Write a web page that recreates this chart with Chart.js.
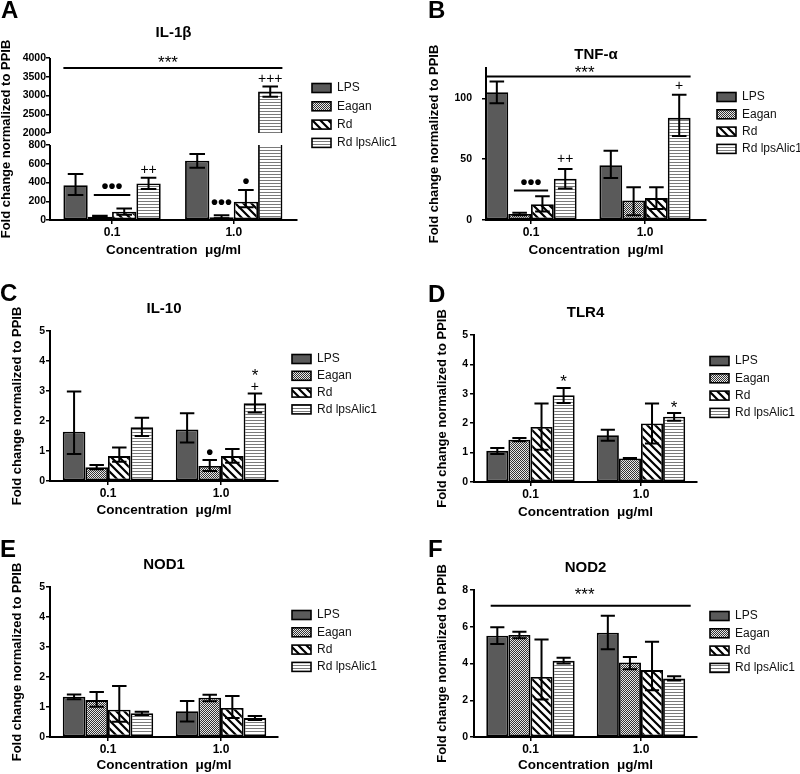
<!DOCTYPE html>
<html>
<head>
<meta charset="utf-8">
<title>Cytokine and receptor expression</title>
<script src="https://cdn.jsdelivr.net/npm/chart.js@4.4.1/dist/chart.umd.min.js"></script>
<style>
  body { margin: 0; background: #fff; }
  #wrap { position: relative; width: 800px; height: 774px; overflow: hidden; background: #fff; }
  canvas { position: absolute; }
</style>
</head>
<body>
<div id="wrap">
  <canvas id="pA" width="410" height="262" style="left:0;top:0"></canvas>
  <canvas id="pB" width="400" height="262" style="left:400px;top:0"></canvas>
  <canvas id="pC" width="400" height="262" style="left:0;top:258px"></canvas>
  <canvas id="pD" width="400" height="262" style="left:400px;top:258px"></canvas>
  <canvas id="pE" width="400" height="259" style="left:0;top:515px"></canvas>
  <canvas id="pF" width="400" height="259" style="left:400px;top:515px"></canvas>
</div>
<script>
const groups = ['0.1', '1.0'];
const series = ['LPS', 'Eagan', 'Rd', 'Rd lpsAlic1'];

// rows = series (LPS, Eagan, Rd, Rd lpsAlic1), columns = 0.1 / 1.0 µg/ml
// mean, top of error bar, bottom of error bar
const il1bMean = [[372, 633], [35, 30], [88, 195], [390, 3110]];
const il1bHi   = [[490, 704], [45, 50], [122, 320], [452, 3238]];
const il1bLo   = [[268, 558], [25, 18], [56, 135], [330, 2970]];
const il1bTicks = [0, 200, 400, 600, 800, 2000, 2500, 3000, 3500, 4000];

const tnfMean = [[105, 45], [5, 16], [13, 18], [34, 84]];
const tnfHi   = [[114, 57], [6, 27], [19.5, 27], [42, 103]];
const tnfLo   = [[96, 34.5], [4, 4], [7, 9], [26, 69]];
const tnfTicks = [0, 50, 100];

const il10Mean = [[1.64, 1.72], [0.46, 0.5], [0.83, 0.83], [1.79, 2.59]];
const il10Hi   = [[2.98, 2.26], [0.53, 0.7], [1.12, 1.07], [2.11, 2.92]];
const il10Lo   = [[0.9, 1.28], [0.39, 0.33], [0.64, 0.61], [1.5, 2.28]];

const tlr4Mean = [[1.06, 1.59], [1.44, 0.8], [1.87, 1.99], [2.95, 2.22]];
const tlr4Hi   = [[1.16, 1.78], [1.5, 0.82], [2.67, 2.67], [3.2, 2.35]];
const tlr4Lo   = [[0.95, 1.4], [1.39, 0.78], [1.1, 1.31], [2.69, 2.08]];

const nod1Mean = [[1.34, 0.86], [1.23, 1.31], [0.91, 0.97], [0.79, 0.63]];
const nod1Hi   = [[1.42, 1.2], [1.5, 1.41], [1.7, 1.37], [0.84, 0.7]];
const nod1Lo   = [[1.26, 0.52], [1.01, 1.19], [0.51, 0.63], [0.73, 0.57]];

const nod2Mean = [[5.51, 5.67], [5.55, 4.06], [3.27, 3.64], [4.15, 3.19]];
const nod2Hi   = [[5.97, 6.6], [5.73, 4.36], [5.31, 5.18], [4.31, 3.3]];
const nod2Lo   = [[5.06, 4.78], [5.37, 3.69], [2.04, 2.55], [4.0, 3.08]];

const fiveTicks = [0, 1, 2, 3, 4, 5];
const nod2Ticks = [0, 2, 4, 6, 8];

// significance marks: [text, group position, value]
const il1bMarks = [['***', 0.46, 3950], ['\u2022\u2022\u2022', 0, 352], ['++', 0.3, 533],
                   ['\u2022\u2022\u2022', 0.9, 175], ['\u2022', 1.1, 405], ['+++', 1.3, 3440]];
const il1bLines = [[-0.4, 1.4, 3733], [-0.15, 0.15, 267]];
const tnfMarks = [['***', 0.47, 123.4], ['\u2022\u2022\u2022', 0, 30.4], ['++', 0.3, 49.7], ['+', 1.3, 110]];
const tnfLines = [[-0.395, 1.4, 118], [-0.15, 0.15, 24.3]];
const il10Marks = [['*', 1.3, 3.6], ['+', 1.3, 3.14], ['\u2022', 0.9, 0.92]];
const tlr4Marks = [['*', 0.3, 3.49], ['*', 1.3, 2.6]];
const nod2Marks = [['***', 0.49, 7.9]];
const nod2Lines = [[-0.36, 1.45, 7.14]];

const FONT = "'Liberation Sans', Arial, Helvetica, sans-serif";
const breakLow = 800, breakHigh = 2000, breakGap = 12;

// y scale with a gap between 800 and 2000 (panel A)
class BrokenLinearScale extends Chart.LinearScale {
  getPixelForValue(value) {
    const seg = (this.bottom - this.top - breakGap) / 2;
    if (value <= breakLow) return this.bottom - (value - this.min) / (breakLow - this.min) * seg;
    if (value >= breakHigh) return this.top + (this.max - value) / (this.max - breakHigh) * seg;
    return this.bottom - seg - (value - breakLow) / (breakHigh - breakLow) * breakGap;
  }
  getValueForPixel(pixel) {
    const seg = (this.bottom - this.top - breakGap) / 2;
    const up = this.bottom - pixel;
    if (up <= seg) return this.min + up / seg * (breakLow - this.min);
    if (up >= seg + breakGap) return this.max - (pixel - this.top) / seg * (this.max - breakHigh);
    return breakLow + (up - seg) / breakGap * (breakHigh - breakLow);
  }
}
BrokenLinearScale.id = 'brokenLinear';
Chart.register(BrokenLinearScale);

function makePattern(kind) {
  const c = document.createElement('canvas');
  const g = c.getContext('2d');
  if (kind === 'check') {
    c.width = 2; c.height = 2;
    g.fillStyle = '#e8e8e8'; g.fillRect(0, 0, 2, 2);
    g.fillStyle = '#333'; g.fillRect(0, 0, 1, 1); g.fillRect(1, 1, 1, 1);
  } else if (kind === 'diag') {
    c.width = 8; c.height = 8;
    g.fillStyle = '#fff'; g.fillRect(0, 0, 8, 8);
    g.strokeStyle = '#000'; g.lineWidth = 2.2;
    g.beginPath();
    g.moveTo(-2, -2); g.lineTo(10, 10);
    g.moveTo(-2, 6); g.lineTo(2, 10);
    g.moveTo(6, -2); g.lineTo(10, 2);
    g.stroke();
  } else {
    c.width = 4; c.height = 3;
    g.fillStyle = '#fff'; g.fillRect(0, 0, 4, 3);
    g.fillStyle = '#7a7a7a'; g.fillRect(0, 0, 4, 1);
  }
  return g.createPattern(c, 'repeat');
}
const fills = ['#5a5a5a', makePattern('check'), makePattern('diag'), makePattern('horiz')];

function decorations(letter, g, marks, lines) {
  return {
    id: 'decorations',
    beforeDatasetsDraw(chart) {
      const y = chart.scales.y;
      if (!(y instanceof BrokenLinearScale)) return;
      const ctx = chart.ctx, ca = chart.chartArea;
      const pLo = y.getPixelForValue(breakLow), pHi = y.getPixelForValue(breakHigh);
      ctx.save();
      ctx.beginPath();
      ctx.rect(ca.left - 10, 0, ca.width + 20, pHi);
      ctx.rect(ca.left - 10, pLo, ca.width + 20, chart.height - pLo);
      ctx.clip();
    },
    afterDatasetsDraw(chart) {
      const ctx = chart.ctx, x = chart.scales.x, y = chart.scales.y;
      if (y instanceof BrokenLinearScale) ctx.restore();
      ctx.save();
      ctx.strokeStyle = '#000';
      ctx.lineWidth = 2;
      chart.data.datasets.forEach((ds, s) => {
        chart.getDatasetMeta(s).data.forEach((bar, i) => {
          const hi = y.getPixelForValue(ds.hi[i]);
          const lo = y.getPixelForValue(ds.lo[i]);
          const w = bar.width * 0.32;
          ctx.beginPath();
          ctx.moveTo(bar.x, hi); ctx.lineTo(bar.x, lo);
          ctx.moveTo(bar.x - w, hi); ctx.lineTo(bar.x + w, hi);
          ctx.moveTo(bar.x - w, lo); ctx.lineTo(bar.x + w, lo);
          ctx.stroke();
        });
      });
      (lines || []).forEach(l => {
        const py = y.getPixelForValue(l[2]);
        ctx.beginPath();
        ctx.moveTo(x.getPixelForValue(l[0]), py);
        ctx.lineTo(x.getPixelForValue(l[1]), py);
        ctx.stroke();
      });
      ctx.fillStyle = '#000';
      ctx.textAlign = 'center';
      ctx.textBaseline = 'middle';
      (marks || []).forEach(m => {
        let dy = 0;
        if (m[0].indexOf('\u2022') >= 0) {
          ctx.font = 'bold 20px ' + FONT;
        } else if (m[0].indexOf('*') >= 0) {
          ctx.font = '17px ' + FONT;
          dy = 3;
        } else {
          ctx.font = '14px ' + FONT;
        }
        ctx.fillText(m[0], x.getPixelForValue(m[1]), y.getPixelForValue(m[2]) + dy);
      });
      ctx.restore();
    },
    afterDraw(chart) {
      const ctx = chart.ctx, y = chart.scales.y, ca = chart.chartArea;
      ctx.save();
      if (y instanceof BrokenLinearScale) {
        ctx.strokeStyle = '#000';
        ctx.lineWidth = 2;
        ctx.beginPath();
        ctx.moveTo(ca.left, ca.top); ctx.lineTo(ca.left, y.getPixelForValue(breakHigh));
        ctx.moveTo(ca.left, y.getPixelForValue(breakLow)); ctx.lineTo(ca.left, ca.bottom);
        ctx.stroke();
      }
      // legend
      ctx.textAlign = 'left';
      ctx.textBaseline = 'middle';
      ctx.font = '12px ' + FONT;
      chart.data.datasets.forEach((ds, s) => {
        const cy = g.legY + s * g.legDy;
        ctx.fillStyle = ds.backgroundColor;
        ctx.fillRect(g.legX, cy - 4.5, 19, 9);
        ctx.strokeStyle = '#000';
        ctx.lineWidth = 1.6;
        ctx.strokeRect(g.legX, cy - 4.5, 19, 9);
        ctx.fillStyle = '#111';
        ctx.fillText(ds.label, g.legX + 25, cy);
      });
      // panel letter
      ctx.font = 'bold 24px ' + FONT;
      ctx.fillStyle = '#000';
      ctx.fillText(letter, g.letX, g.letY);
      ctx.restore();
    }
  };
}

function panel(id, letter, title, mean, hi, lo, yTicks, yMax, g, marks, lines, broken) {
  const datasets = series.map((name, s) => ({
    label: name,
    data: mean[s].map((v, i) => ({ x: i, y: v })),
    hi: hi[s],
    lo: lo[s],
    backgroundColor: fills[s],
    borderColor: '#000',
    borderWidth: 1.8,
    borderSkipped: false,
    barPercentage: 1,
    categoryPercentage: 0.8
  }));
  new Chart(document.getElementById(id), {
    type: 'bar',
    data: { datasets },
    options: {
      responsive: false,
      animation: false,
      events: [],
      layout: { padding: { left: 0, top: 0, bottom: 0, right: g.W - g.R } },
      plugins: {
        legend: { display: false },
        tooltip: { enabled: false },
        title: {
          display: true,
          text: title,
          fullSize: false,
          color: '#000',
          font: { family: FONT, size: 15, weight: 'bold', lineHeight: 1.2 },
          padding: { top: g.titleY - 9, bottom: g.T - g.titleY - 9 }
        }
      },
      scales: {
        x: {
          type: 'linear',
          min: g.xMin,
          max: g.xMax,
          offset: false,
          afterBuildTicks: a => { a.ticks = groups.map((_, i) => ({ value: i })); },
          afterFit: s => { s.height = g.H - g.B; },
          ticks: {
            callback: (v, i) => groups[i],
            color: '#000',
            padding: 1.5,
            autoSkip: false,
            maxRotation: 0,
            font: { family: FONT, size: 12, weight: 'bold' }
          },
          grid: { display: true, offset: false, drawOnChartArea: false, drawTicks: true, tickLength: 4, color: '#000', lineWidth: 1.5 },
          border: { display: true, color: '#000', width: 2 },
          title: {
            display: true,
            text: 'Concentration  \u03bcg/ml',
            color: '#000',
            font: { family: FONT, size: 13.5, weight: 'bold', lineHeight: 1 },
            padding: { top: 0, bottom: g.H - g.xTitleY - 6.75 }
          }
        },
        y: {
          type: broken ? 'brokenLinear' : 'linear',
          min: 0,
          max: yMax,
          afterBuildTicks: a => { a.ticks = yTicks.map(v => ({ value: v })); },
          afterFit: s => { s.width = g.L; },
          ticks: {
            callback: v => String(v),
            color: '#000',
            padding: g.yTickPad,
            autoSkip: false,
            font: { family: FONT, size: 10.5, weight: 'bold' }
          },
          grid: { display: true, drawOnChartArea: false, drawTicks: true, tickLength: 4, color: '#000', lineWidth: 1.5 },
          border: { display: !broken, color: '#000', width: 2 },
          title: {
            display: true,
            text: 'Fold change normalized to PPIB',
            color: '#000',
            font: { family: FONT, size: 13, weight: 'bold', lineHeight: 1 },
            padding: { top: Math.max(g.yTitleX - 6.5, 0), bottom: 0 }
          }
        }
      }
    },
    plugins: [decorations(letter, g, marks, lines)]
  });
}

const geomA = { W: 410, H: 262, L: 50, R: 297, T: 58, B: 220, xMin: -0.51, xMax: 1.52, titleY: 33, xTitleY: 250, yTitleX: 6, yTickPad: 0, legX: 312, legY: 88, legDy: 18.3, letX: 1, letY: 11 };
const geomB = { W: 400, H: 262, L: 86, R: 306, T: 68, B: 220, xMin: -0.395, xMax: 1.535, titleY: 55, xTitleY: 250, yTitleX: 34, yTickPad: 10, legX: 317, legY: 97, legDy: 17.3, letX: 28, letY: 11 };
const geomC = { W: 400, H: 262, L: 50, R: 278, T: 73, B: 223, xMin: -0.513, xMax: 1.504, titleY: 51, xTitleY: 252, yTitleX: 17, yTickPad: 1, legX: 292, legY: 101, legDy: 16.8, letX: 0, letY: 36 };
const geomD = { W: 400, H: 262, L: 74, R: 297, T: 77, B: 224, xMin: -0.511, xMax: 1.507, titleY: 55, xTitleY: 254, yTitleX: 42, yTickPad: 2, legX: 310, legY: 103, legDy: 17.3, letX: 28, letY: 37 };
const geomE = { W: 400, H: 259, L: 50, R: 278, T: 72, B: 222, xMin: -0.513, xMax: 1.504, titleY: 50, xTitleY: 250, yTitleX: 17, yTickPad: 1, legX: 292, legY: 100, legDy: 17.3, letX: 0, letY: 35 };
const geomF = { W: 400, H: 259, L: 74, R: 297, T: 75, B: 222, xMin: -0.511, xMax: 1.507, titleY: 53, xTitleY: 250, yTitleX: 42, yTickPad: 2, legX: 310, legY: 101, legDy: 17.3, letX: 28, letY: 35 };

panel('pA', 'A', 'IL-1\u03b2', il1bMean, il1bHi, il1bLo, il1bTicks, 4000, geomA, il1bMarks, il1bLines, true);
panel('pB', 'B', 'TNF-\u03b1', tnfMean, tnfHi, tnfLo, tnfTicks, 125, geomB, tnfMarks, tnfLines, false);
panel('pC', 'C', 'IL-10', il10Mean, il10Hi, il10Lo, fiveTicks, 5, geomC, il10Marks, [], false);
panel('pD', 'D', 'TLR4', tlr4Mean, tlr4Hi, tlr4Lo, fiveTicks, 5, geomD, tlr4Marks, [], false);
panel('pE', 'E', 'NOD1', nod1Mean, nod1Hi, nod1Lo, fiveTicks, 5, geomE, [], [], false);
panel('pF', 'F', 'NOD2', nod2Mean, nod2Hi, nod2Lo, nod2Ticks, 8, geomF, nod2Marks, nod2Lines, false);
</script>
</body>
</html>
